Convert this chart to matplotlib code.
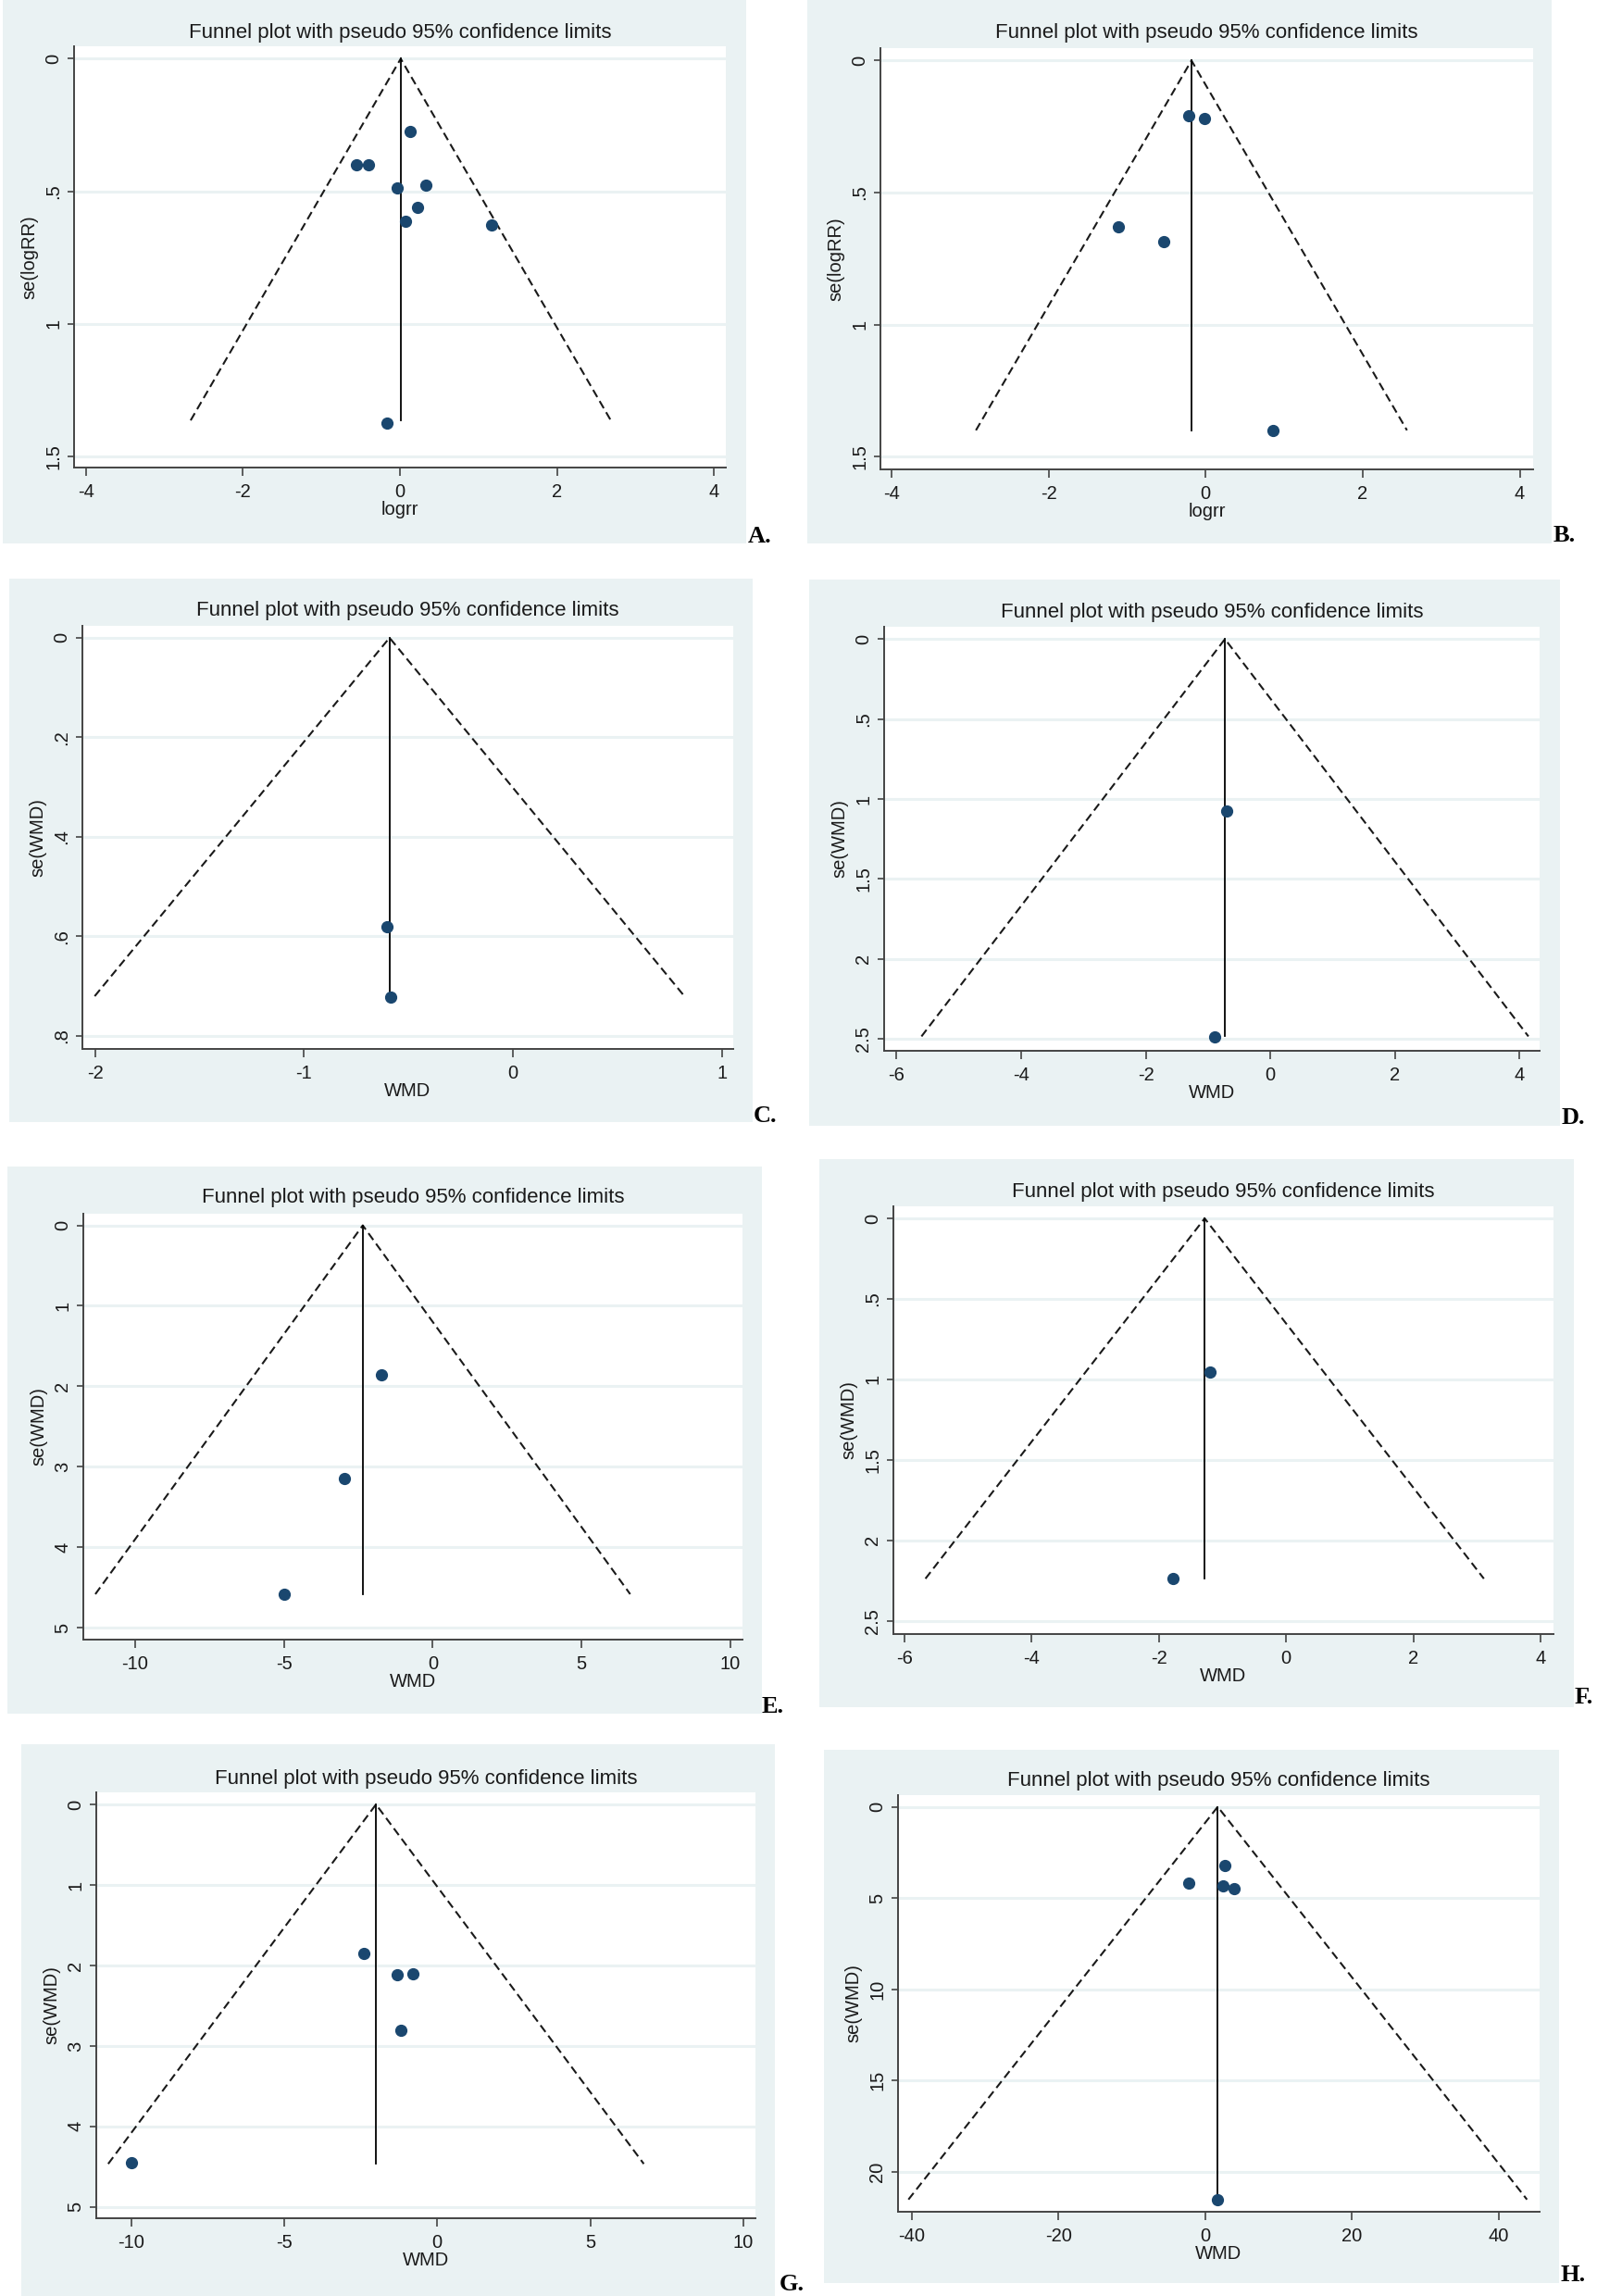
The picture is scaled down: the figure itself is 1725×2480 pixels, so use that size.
import matplotlib
matplotlib.use('Agg')
import matplotlib.pyplot as plt
from matplotlib.patches import Rectangle

plt.rcParams['font.family'] = ['Liberation Sans', 'DejaVu Sans']

W, H = 1725, 2480
title_text = 'Funnel plot with pseudo 95% confidence limits'

# A: logRR
a_x = [-0.55, -0.40, 0.13, -0.04, 0.33, 0.22, 0.07, 1.17, -0.16]
a_se = [0.40, 0.40, 0.276, 0.487, 0.476, 0.56, 0.613, 0.627, 1.375]
a_theta, a_semax = 0.01, 1.365
a_xticks = [-4, -2, 0, 2, 4]
a_yticks = [0, 0.5, 1, 1.5]
a_ylabels = ['0', '.5', '1', '1.5']

# B: logRR
b_x = [-0.21, -0.02, -1.11, -0.53, 0.86]
b_se = [0.209, 0.218, 0.63, 0.686, 1.40]
b_theta, b_semax = -0.18, 1.40
b_xticks = [-4, -2, 0, 2, 4]
b_yticks = [0, 0.5, 1, 1.5]
b_ylabels = ['0', '.5', '1', '1.5']

# C: WMD
c_x = [-0.60, -0.585]
c_se = [0.581, 0.721]
c_theta, c_semax = -0.59, 0.72
c_xticks = [-2, -1, 0, 1]
c_yticks = [0, 0.2, 0.4, 0.6, 0.8]
c_ylabels = ['0', '.2', '.4', '.6', '.8']

# D: WMD
d_x = [-0.695, -0.89]
d_se = [1.074, 2.49]
d_theta, d_semax = -0.73, 2.485
d_xticks = [-6, -4, -2, 0, 2, 4]
d_yticks = [0, 0.5, 1, 1.5, 2, 2.5]
d_ylabels = ['0', '.5', '1', '1.5', '2', '2.5']

# E: WMD
e_x = [-1.72, -2.98, -5.0]
e_se = [1.855, 3.145, 4.586]
e_theta, e_semax = -2.35, 4.585
e_xticks = [-10, -5, 0, 5, 10]
e_yticks = [0, 1, 2, 3, 4, 5]
e_ylabels = ['0', '1', '2', '3', '4', '5']

# F: WMD
f_x = [-1.19, -1.78]
f_se = [0.955, 2.236]
f_theta, f_semax = -1.28, 2.238
f_xticks = [-6, -4, -2, 0, 2, 4]
f_yticks = [0, 0.5, 1, 1.5, 2, 2.5]
f_ylabels = ['0', '.5', '1', '1.5', '2', '2.5']

# G: WMD
g_x = [-2.39, -1.31, -0.80, -1.19, -10.0]
g_se = [1.847, 2.12, 2.105, 2.81, 4.45]
g_theta, g_semax = -2.0, 4.465
g_xticks = [-10, -5, 0, 5, 10]
g_yticks = [0, 1, 2, 3, 4, 5]
g_ylabels = ['0', '1', '2', '3', '4', '5']

# H: WMD
h_x = [2.64, -2.3, 2.37, 3.97, 1.6]
h_se = [3.21, 4.19, 4.31, 4.47, 21.55]
h_theta, h_semax = 1.7, 21.52
h_xticks = [-40, -20, 0, 20, 40]
h_yticks = [0, 5, 10, 15, 20]
h_ylabels = ['0', '5', '10', '15', '20']

panels = [
    dict(tag='A.', x=a_x, se=a_se, theta=a_theta, semax=a_semax, xt=a_xticks, yt=a_yticks, yl=a_ylabels,
         xlab='logrr', ylab='se(logRR)', xlim=(-4.15, 4.15), ylim=(1.543, -0.047),
         bg=(3, 0, 806, 587), ax=(80, 50, 784, 505), ty=35, lab=(808, 580)),
    dict(tag='B.', x=b_x, se=b_se, theta=b_theta, semax=b_semax, xt=b_xticks, yt=b_yticks, yl=b_ylabels,
         xlab='logrr', ylab='se(logRR)', xlim=(-4.14, 4.17), ylim=(1.548, -0.047),
         bg=(872, 0, 1676, 587), ax=(951, 52, 1656, 507), ty=36, lab=(1678, 579)),
    dict(tag='C.', x=c_x, se=c_se, theta=c_theta, semax=c_semax, xt=c_xticks, yt=c_yticks, yl=c_ylabels,
         xlab='WMD', ylab='se(WMD)', xlim=(-2.06, 1.055), ylim=(0.826, -0.024),
         bg=(10, 625, 813, 1212), ax=(89, 676, 792, 1133), ty=660, lab=(814, 1206)),
    dict(tag='D.', x=d_x, se=d_se, theta=d_theta, semax=d_semax, xt=d_xticks, yt=d_yticks, yl=d_ylabels,
         xlab='WMD', ylab='se(WMD)', xlim=(-6.2, 4.32), ylim=(2.575, -0.077),
         bg=(874, 626, 1685, 1216), ax=(955, 677, 1663, 1135), ty=661, lab=(1687, 1208)),
    dict(tag='E.', x=e_x, se=e_se, theta=e_theta, semax=e_semax, xt=e_xticks, yt=e_yticks, yl=e_ylabels,
         xlab='WMD', ylab='se(WMD)', xlim=(-11.74, 10.41), ylim=(5.15, -0.145),
         bg=(8, 1260, 823, 1851), ax=(90, 1311, 802, 1771), ty=1294, lab=(823, 1844)),
    dict(tag='F.', x=f_x, se=f_se, theta=f_theta, semax=f_semax, xt=f_xticks, yt=f_yticks, yl=f_ylabels,
         xlab='WMD', ylab='se(WMD)', xlim=(-6.17, 4.2), ylim=(2.582, -0.075),
         bg=(885, 1252, 1700, 1844), ax=(965, 1303, 1678, 1765), ty=1287, lab=(1701, 1834)),
    dict(tag='G.', x=g_x, se=g_se, theta=g_theta, semax=g_semax, xt=g_xticks, yt=g_yticks, yl=g_ylabels,
         xlab='WMD', ylab='se(WMD)', xlim=(-11.14, 10.4), ylim=(5.14, -0.15),
         bg=(23, 1884, 837, 2480), ax=(104, 1936, 816, 2396), ty=1921, lab=(842, 2468)),
    dict(tag='H.', x=h_x, se=h_se, theta=h_theta, semax=h_semax, xt=h_xticks, yt=h_yticks, yl=h_ylabels,
         xlab='WMD', ylab='se(WMD)', xlim=(-41.9, 45.6), ylim=(22.19, -0.64),
         bg=(890, 1890, 1684, 2466), ax=(970, 1939, 1663, 2389), ty=1923, lab=(1685, 2458)),
]

bg_col = '#EAF2F3'
dot_col = '#1A476F'

fig = plt.figure(figsize=(W / 100, H / 100), dpi=100)
fig.patch.set_facecolor('white')


def frac(box):
    x0, y0, x1, y1 = box
    return [x0 / W, 1 - y1 / H, (x1 - x0) / W, (y1 - y0) / H]


for p in panels:
    l, b, w, h = frac(p['bg'])
    fig.patches.append(Rectangle((l, b), w, h, transform=fig.transFigure,
                                 facecolor=bg_col, edgecolor='none', zorder=-10))

    ax = fig.add_axes(frac(p['ax']))
    ax.set_zorder(1)
    ax.set_facecolor('white')
    ax.set_xlim(*p['xlim'])
    ax.set_ylim(*p['ylim'])

    # gridlines
    for yv in p['yt']:
        ax.axhline(yv, color=bg_col, lw=2.2, zorder=1)

    t, sm = p['theta'], p['semax']
    ax.plot([t - 1.96 * sm, t, t + 1.96 * sm], [sm, 0, sm], color='#1a1a1a',
            lw=1.5, dashes=(4.3, 2.4), zorder=2)
    ax.plot([t, t], [0, sm], color='black', lw=1.3, zorder=2)
    ax.plot(p['x'], p['se'], 'o', color=dot_col, ms=8.5, zorder=3)

    ax.set_xticks(p['xt'])
    ax.set_xticklabels([str(v) for v in p['xt']])
    ax.set_yticks(p['yt'])
    ax.set_yticklabels(p['yl'])
    ax.tick_params(axis='both', width=1.2, color='#444444',
                   labelsize=14.5, labelcolor='#1a1a1a')
    ax.tick_params(axis='x', length=6.5, pad=6)
    ax.tick_params(axis='y', length=5, labelrotation=90, pad=4)
    for lbl in ax.get_yticklabels():
        lbl.set_va('center')
    for s in ['top', 'right']:
        ax.spines[s].set_visible(False)
    for s in ['left', 'bottom']:
        ax.spines[s].set_color('#444444')
        ax.spines[s].set_linewidth(1.4)
    ax.set_xlabel(p['xlab'], fontsize=14.5, color='#1a1a1a', labelpad=0)
    ax.set_ylabel(p['ylab'], fontsize=14.5, color='#1a1a1a', labelpad=5)

    ax_l, ax_r = p['ax'][0], p['ax'][2]
    fig.text((ax_l + ax_r) / 2 / W, 1 - p['ty'] / H, title_text, ha='center', va='center',
             fontsize=16, color='#1a1a1a')
    fig.text(p['lab'][0] / W, 1 - p['lab'][1] / H, p['tag'], ha='left', va='center',
             fontsize=19, fontweight='bold', family='Liberation Serif')

fig.savefig('out.png', dpi=100, facecolor='white')
